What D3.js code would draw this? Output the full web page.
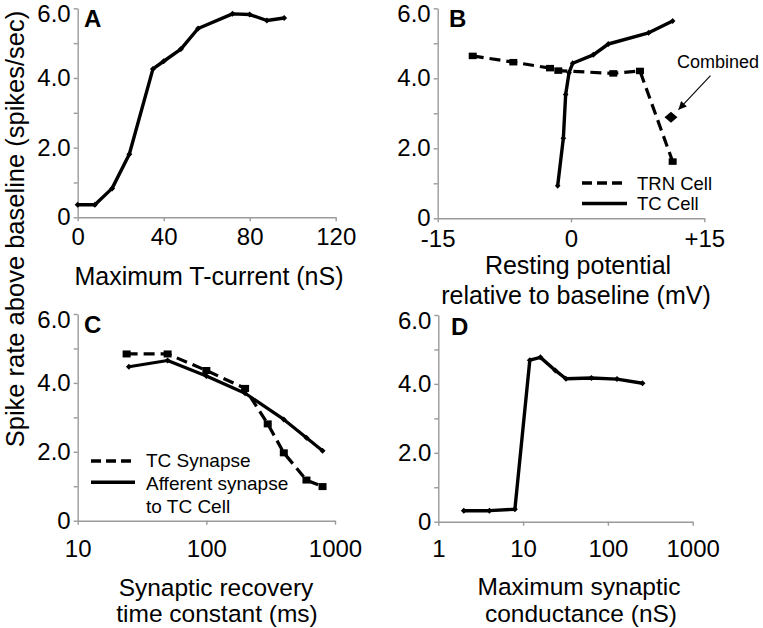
<!DOCTYPE html>
<html>
<head>
<meta charset="utf-8">
<script src="https://cdn.jsdelivr.net/npm/d3@7"></script>
<style>
  html, body { margin: 0; padding: 0; background: #fff; }
  svg { display: block; }
  text { font-family: "Liberation Sans", Arial, sans-serif; fill: #000; }
</style>
</head>
<body>
<svg id="chart" width="763" height="628"></svg>
<script>
// ---------------- DATA ----------------
const yTicks = [0, 1, 2, 3, 4, 5, 6];
const yTickLabels = {0: "0", 2: "2.0", 4: "4.0", 6: "6.0"};

// Panel A
const aX = [0, 8, 16, 24, 35, 40, 48, 56, 72, 80, 88, 96];
const aY = [0.36, 0.36, 0.83, 1.81, 4.26, 4.48, 4.83, 5.42, 5.84, 5.82, 5.65, 5.72];
const aXTicks = [0, 40, 80, 120];

// Panel B
const bTrnX = [-11.06, -6.49, -2.36, -1.43, 4.76, 7.76, 11.44];
const bTrnY = [4.64, 4.46, 4.29, 4.22, 4.14, 4.21, 1.62];
const bTcX = [-1.5, -0.86, -0.6, -0.22, 0.19, 2.51, 4.2, 8.74, 11.44];
const bTcY = [0.93, 2.29, 3.54, 4.16, 4.43, 4.67, 4.98, 5.30, 5.64];
const bCombined = {x: 11.25, y: 2.89};
const bXTicks = [-15, 0, 15];
const bXTickLabels = {"-15": "-15", "0": "0", "15": "+15"};

// Panel C
const cX = [24, 50, 100, 200, 300, 400, 600, 800];
const cTcSynY = [4.84, 4.84, 4.36, 3.84, 2.81, 1.97, 1.18, 0.99];
const cAffX = [25, 50, 100, 200, 400, 600, 800];
const cAffY = [4.47, 4.65, 4.20, 3.70, 2.94, 2.41, 2.03];
const cXTicks = [10, 100, 1000];

// Panel D
const dX = [2, 4, 8, 12, 16, 24, 32, 64, 128, 256];
const dY = [0.32, 0.32, 0.36, 4.69, 4.77, 4.39, 4.15, 4.17, 4.14, 4.02];
const dXTicks = [1, 10, 100, 1000];

// ---------------- DRAW ----------------
const svg = d3.select("#chart");
const axisColor = "#9a9a9a";

function zip(xs, ys) { return xs.map((x, i) => ({x, y: ys[i]})); }

function drawAxes(g, x, y, xTicks, xFmt, xPad) {
  const yAxis = d3.axisLeft(y).tickValues(yTicks).tickSize(4).tickSizeOuter(0).tickPadding(3)
    .tickFormat(d => yTickLabels[d] || "");
  const ya = g.append("g").attr("transform", `translate(${x.range()[0]},0)`).call(yAxis);
  const xAxis = d3.axisBottom(x).tickValues(xTicks).tickSize(4).tickSizeOuter(0).tickPadding(xPad)
    .tickFormat(xFmt);
  const xa = g.append("g").attr("transform", `translate(0,${y.range()[0]})`).call(xAxis);
  [ya, xa].forEach(a => {
    a.select(".domain").attr("stroke", axisColor).attr("stroke-width", 1.4);
    a.selectAll(".tick line").attr("stroke", axisColor).attr("stroke-width", 1.4);
    a.selectAll(".tick text").attr("font-size", 24)
      .attr("font-family", '"Liberation Sans", Arial, sans-serif').attr("fill", "#000");
  });
  // top label sits a little lower so it stays inside the frame
  ya.selectAll(".tick").filter(d => d === 6).select("text").attr("dy", "0.55em");
}

function drawLine(g, x, y, pts, dashed, width) {
  const line = d3.line().x(d => x(d.x)).y(d => y(d.y));
  g.append("path").datum(pts).attr("d", line).attr("fill", "none")
    .attr("stroke", "#000").attr("stroke-width", width)
    .attr("stroke-linejoin", "round")
    .attr("stroke-dasharray", dashed ? "11,6" : null);
}

function diamonds(g, x, y, pts, hw, hh) {
  g.selectAll(null).data(pts).enter().append("path")
    .attr("d", d => {
      const cx = x(d.x), cy = y(d.y);
      return `M${cx - hw},${cy}L${cx},${cy - hh}L${cx + hw},${cy}L${cx},${cy + hh}Z`;
    })
    .attr("fill", "#000");
}

function squares(g, x, y, pts, w, h) {
  g.selectAll(null).data(pts).enter().append("rect")
    .attr("x", d => x(d.x) - w / 2).attr("y", d => y(d.y) - h / 2)
    .attr("width", w).attr("height", h).attr("fill", "#000");
}

function label(g, txt, x, y, size, opts = {}) {
  const t = g.append("text").attr("x", x).attr("y", y).attr("font-size", size).text(txt);
  if (opts.anchor) t.attr("text-anchor", opts.anchor);
  if (opts.bold) t.attr("font-weight", "bold");
  return t;
}

// Shared y title
svg.append("text")
  .attr("transform", "translate(23.5,229) rotate(-90)")
  .attr("text-anchor", "middle").attr("font-size", 25.5)
  .text("Spike rate above baseline (spikes/sec)");

// ---- Panel A ----
{
  const g = svg.append("g");
  const x = d3.scaleLinear().domain([0, 120]).range([77.7, 335.7]);
  const y = d3.scaleLinear().domain([0, 6]).range([217.3, 8.3]);
  drawAxes(g, x, y, aXTicks, d => String(d), 6.5);
  const pts = zip(aX, aY);
  drawLine(g, x, y, pts, false, 3.4);
  diamonds(g, x, y, pts, 3, 3);
  label(g, "A", 84, 27, 24, {bold: true});
  label(g, "Maximum T-current (nS)", 209, 285, 25, {anchor: "middle"});
}

// ---- Panel B ----
{
  const g = svg.append("g");
  const x = d3.scaleLinear().domain([-15, 15]).range([437.7, 704.3]);
  const y = d3.scaleLinear().domain([0, 6]).range([218.3, 8.3]);
  drawAxes(g, x, y, bXTicks, d => bXTickLabels[String(d)], 7.8);
  const trn = zip(bTrnX, bTrnY);
  const tc = zip(bTcX, bTcY);
  drawLine(g, x, y, trn, true, 3.2);
  squares(g, x, y, trn, 8, 6.5);
  drawLine(g, x, y, tc, false, 3.4);
  diamonds(g, x, y, tc, 2.8, 3);
  diamonds(g, x, y, [bCombined], 6.5, 5.5);
  // annotation
  label(g, "Combined", 677, 68, 18);
  const tipX = x(bCombined.x) + 7.5, tipY = y(bCombined.y) - 7.5;
  svg.append("defs").append("marker").attr("id", "arr")
    .attr("viewBox", "0 0 10 10").attr("refX", 10).attr("refY", 5)
    .attr("markerWidth", 10).attr("markerHeight", 8).attr("markerUnits", "userSpaceOnUse")
    .attr("orient", "auto")
    .append("path").attr("d", "M0,0L10,5L0,10Z").attr("fill", "#000");
  g.append("line").attr("x1", tipX + 32).attr("y1", tipY - 34)
    .attr("x2", tipX).attr("y2", tipY)
    .attr("stroke", "#000").attr("stroke-width", 1.1).attr("marker-end", "url(#arr)");
  // legend
  g.append("line").attr("x1", 582).attr("x2", 627).attr("y1", 183).attr("y2", 183)
    .attr("stroke", "#000").attr("stroke-width", 3.6).attr("stroke-dasharray", "10,5");
  g.append("line").attr("x1", 582).attr("x2", 627).attr("y1", 203.5).attr("y2", 203.5)
    .attr("stroke", "#000").attr("stroke-width", 3.6);
  label(g, "TRN Cell", 637, 190, 18.5);
  label(g, "TC Cell", 637, 210, 18.5);
  label(g, "B", 449, 26.7, 24, {bold: true});
  label(g, "Resting potential", 578, 274, 25, {anchor: "middle"});
  label(g, "relative to baseline (mV)", 576, 304, 25, {anchor: "middle"});
}

// ---- Panel C ----
{
  const g = svg.append("g");
  const x = d3.scaleLog().domain([10, 1000]).range([77.7, 335]);
  const y = d3.scaleLinear().domain([0, 6]).range([520.7, 314]);
  drawAxes(g, x, y, cXTicks, d => String(d), 15);
  const syn = zip(cX, cTcSynY);
  const aff = zip(cAffX, cAffY);
  drawLine(g, x, y, syn, true, 3.2);
  squares(g, x, y, syn, 8, 7);
  drawLine(g, x, y, aff, false, 3.2);
  diamonds(g, x, y, aff, 3, 3);
  g.append("line").attr("x1", 91).attr("x2", 135).attr("y1", 461).attr("y2", 461)
    .attr("stroke", "#000").attr("stroke-width", 3.6).attr("stroke-dasharray", "10,5");
  g.append("line").attr("x1", 91).attr("x2", 135).attr("y1", 482.3).attr("y2", 482.3)
    .attr("stroke", "#000").attr("stroke-width", 3.6);
  label(g, "TC Synapse", 146, 467, 19);
  label(g, "Afferent synapse", 146, 490, 19);
  label(g, "to TC Cell", 146, 513, 19);
  label(g, "C", 84, 333, 24, {bold: true});
  label(g, "Synaptic recovery", 216, 596, 24.5, {anchor: "middle"});
  label(g, "time constant (ms)", 217, 622, 24.5, {anchor: "middle"});
}

// ---- Panel D ----
{
  const g = svg.append("g");
  const x = d3.scaleLog().domain([1, 1000]).range([438.3, 692.7]);
  const y = d3.scaleLinear().domain([0, 6]).range([521.7, 315]);
  drawAxes(g, x, y, dXTicks, d => String(d), 14);
  const pts = zip(dX, dY);
  drawLine(g, x, y, pts, false, 3.4);
  diamonds(g, x, y, pts, 3, 3);
  label(g, "D", 451, 335, 24, {bold: true});
  label(g, "Maximum synaptic", 579, 595, 24.5, {anchor: "middle"});
  label(g, "conductance (nS)", 581, 622, 24.5, {anchor: "middle"});
}
</script>
</body>
</html>
